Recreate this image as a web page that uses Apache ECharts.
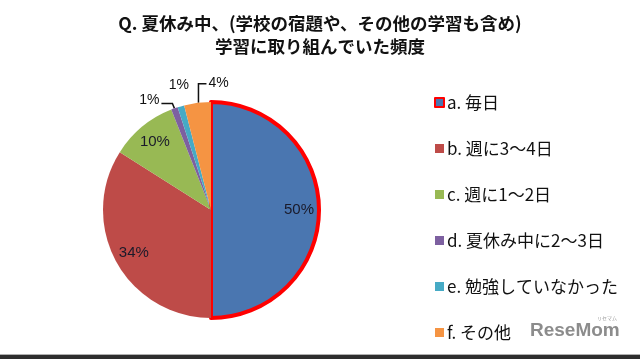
<!DOCTYPE html>
<html><head><meta charset="utf-8">
<script src="https://cdn.jsdelivr.net/npm/echarts@6/dist/echarts.min.js"></script>
<style>html,body{margin:0;padding:0;background:#fff}#c{width:640px;height:359px}</style>
</head><body><div id="c"></div>
<script>
var titleLines = ['Q. 夏休み中、(学校の宿題や、その他の学習も含め)', '学習に取り組んでいた頻度'];
var categories = ['a. 毎日', 'b. 週に3～4日', 'c. 週に1～2日', 'd. 夏休み中に2～3日', 'e. 勉強していなかった', 'f. その他'];
var values = [50, 34, 10, 1, 1, 4];
var colors = ['#4A76B0', '#BE4B48', '#98B954', '#7D60A0', '#46AAC5', '#F59443'];
var innerLabelled = [true, true, true, false, false, false];

var chart = echarts.init(document.getElementById('c'), null, {renderer: 'canvas'});
var FONT = '"Noto Sans CJK JP", sans-serif';
var LFONT = '"Liberation Sans", Arial, sans-serif';

var mainData = categories.map(function (n, i) {
  var d = {name: n, value: values[i], itemStyle: {color: colors[i]}};
  if (i === 0) { d.itemStyle.borderColor = '#FF0000'; d.itemStyle.borderWidth = 4; }
  d.label = {show: !innerLabelled[i]};
  d.labelLine = {show: !innerLabelled[i]};
  return d;
});
var overlayData = categories.map(function (n, i) {
  return {name: n, value: values[i], label: {show: innerLabelled[i]}};
});

var titleStyle = {fontFamily: FONT, fontSize: 17.5, fontWeight: 'bold', color: '#111'};

chart.setOption({
  animation: false,
  backgroundColor: '#fff',
  color: colors,
  title: [
    {text: titleLines[0], left: 'center', top: 10, textStyle: titleStyle},
    {text: titleLines[1], left: 'center', top: 33, textStyle: titleStyle}
  ],
  legend: {
    orient: 'vertical', left: 429, top: 89,
    data: categories,
    itemWidth: 9, itemHeight: 9, itemGap: 29,
    icon: 'rect',
    textStyle: {fontFamily: FONT, fontSize: 17, color: '#111', padding: [0,0,0,-2]}
  },
  graphic: [
    {type: 'text', left: 530, top: 321, style: {text: 'ReseMom', font: 'bold 19px "Liberation Sans", Arial, sans-serif', fill: '#8c8c8c'}},
    {type: 'text', left: 597, top: 316, style: {text: 'リセマム', font: '5px "Noto Sans CJK JP"', fill: '#999'}},
    {type: 'rect', shape: {x: 0, y: 354, width: 640, height: 1}, style: {fill: '#b0b0b0'}},
    {type: 'rect', shape: {x: 0, y: 355, width: 640, height: 4}, style: {fill: '#2e2e2e'}}
  ],
  series: [
    {
      type: 'pie', name: 'main',
      center: [211, 210], radius: [0, 108],
      startAngle: 90, clockwise: true,
      avoidLabelOverlap: false,
      data: mainData,
      label: {position: 'outside', formatter: '{d}%', fontFamily: LFONT, fontSize: 14, color: '#111'},
      labelLine: {length: 5, length2: 10, lineStyle: {color: '#111', width: 1.5}},
      labelLayout: function (p) {
        var pts = p.labelLinePoints;
        if (!pts) return {};
        var x0 = pts[0][0], y0 = pts[0][1];
        if (p.dataIndex === 3) {
          return {x: x0 - 15, y: y0 - 8, align: 'right', verticalAlign: 'middle',
            labelLinePoints: [[x0, y0], [x0 - 2, y0 - 5], [x0 - 13, y0 - 5]]};
        }
        if (p.dataIndex === 4) {
          return {x: x0 - 2, y: y0 - 21, align: 'center', verticalAlign: 'middle',
            labelLinePoints: [[x0, y0], [x0, y0], [x0, y0]]};
        }
        if (p.dataIndex === 5) {
          return {x: x0 + 11, y: y0 - 20, align: 'left', verticalAlign: 'middle',
            labelLinePoints: [[x0 + 1, y0], [x0 + 1, y0 - 19], [x0 + 9, y0 - 19]]};
        }
        return {};
      },
      emphasis: {disabled: true},
      z: 2
    },
    {
      type: 'pie', name: 'labels',
      center: [211, 210], radius: [62, 108],
      startAngle: 90, clockwise: true,
      silent: true,
      avoidLabelOverlap: false,
      data: overlayData,
      itemStyle: {color: 'rgba(0,0,0,0)', borderWidth: 0},
      label: {position: 'inside', formatter: '{d}%', fontFamily: LFONT, fontSize: 15, color: '#1a1a2a'},
      labelLine: {show: false},
      legendHoverLink: false,
      emphasis: {disabled: true},
      z: 3
    }
  ]
});
</script>
</body></html>
